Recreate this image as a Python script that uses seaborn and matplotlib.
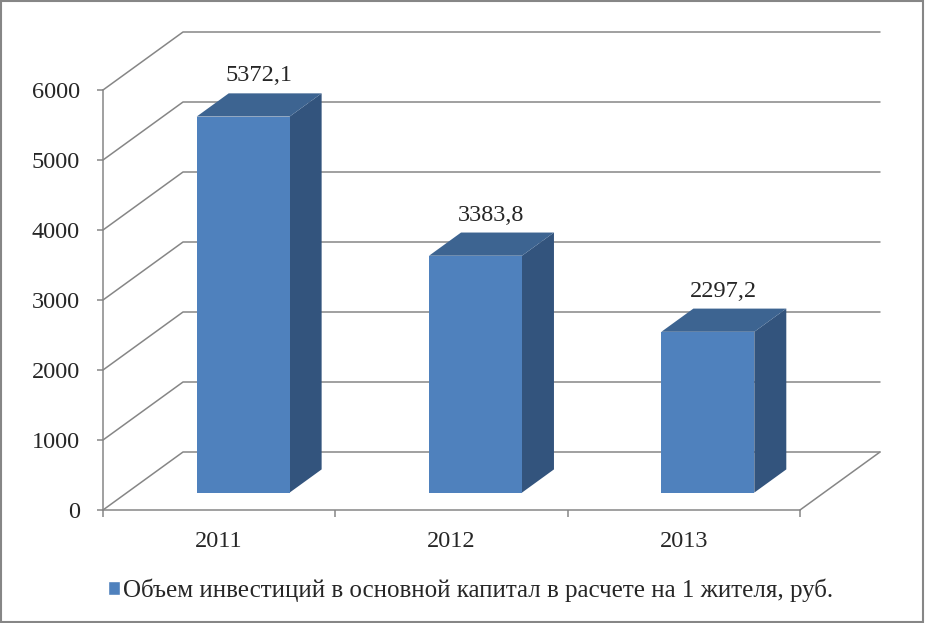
#!/usr/bin/env python3
# Investment per resident, pseudo-3D column chart

import pandas as pd
import seaborn as sns
import matplotlib.pyplot as plt
from matplotlib.patches import Polygon, Rectangle

years = ["2011", "2012", "2013"]
values = [5372.1, 3383.8, 2297.2]
value_labels = ["5372,1", "3383,8", "2297,2"]
series = "Объем инвестиций в основной капитал в расчете на 1 жителя, руб."
yticks = [0, 1000, 2000, 3000, 4000, 5000, 6000]

front = "#4f81bd"
side = "#33547d"
top = "#3d6491"
grid = "#868686"
fs = 17.5

sns.set_style("white")
plt.rcParams["font.family"] = ["Liberation Serif", "DejaVu Serif"]

fig = plt.figure(figsize=(9.25, 6.23), dpi=100)
ax = fig.add_axes([103 / 925, 1 - 510 / 623, 697 / 925, 420 / 623])

df = pd.DataFrame({"year": years, "value": values, "series": series})
sns.barplot(data=df, x="year", y="value", hue="series", palette=[front],
            saturation=1, width=0.4, linewidth=0, zorder=3, ax=ax)
bars = list(ax.patches)
ax.set_xlim(-0.5, 2.5)
ax.set_ylim(0, 6000)

# depth of the floor in data units (80 px right, 58 px up)
dx = 80 * 3 / 697
dy = 58 * 6000 / 420

# walls and floor
for v in yticks:
    ax.plot([-0.5, -0.5 + dx, 2.5 + dx], [v, v + dy, v + dy],
            color=grid, lw=1.1, clip_on=False, zorder=1)
ax.plot([2.5, 2.5 + dx], [0, dy], color=grid, lw=1.1, clip_on=False, zorder=1)

# push the bars back into the middle of the depth and add top/side faces
for p, lab in zip(bars, value_labels):
    h = p.get_height()
    p.set_x(p.get_x() + 0.3 * dx)
    p.set_y(0.3 * dy)
    x0, w, y0 = p.get_x(), p.get_width(), p.get_y()
    x1, y1 = x0 + w, y0 + h
    ddx, ddy = 0.4 * dx, 0.4 * dy
    ax.add_patch(Polygon([(x1, y0), (x1, y1), (x1 + ddx, y1 + ddy), (x1 + ddx, y0 + ddy)],
                         closed=True, facecolor=side, edgecolor="none", zorder=2.5, clip_on=False))
    ax.add_patch(Polygon([(x0, y1), (x1, y1), (x1 + ddx, y1 + ddy), (x0 + ddx, y1 + ddy)],
                         closed=True, facecolor=top, edgecolor="none", zorder=3.5, clip_on=False))
    ax.annotate(lab, (x0 + w / 2 + ddx / 2, y1 + ddy), xytext=(0, 8.6),
                textcoords="offset points", ha="center", va="baseline",
                fontsize=fs, annotation_clip=False)

ax.set_xlabel("")
ax.set_ylabel("")
ax.set_yticks(yticks)
ax.set_xticks(range(len(years)))
ax.set_xticks([-0.5, 0.5, 1.5, 2.5], minor=True)
ax.tick_params(axis="x", which="major", length=0, pad=15, labelsize=fs)
ax.tick_params(axis="x", which="minor", bottom=True, length=5, width=1.1, color=grid)
ax.tick_params(axis="y", left=True, length=4.5, width=1.1, color=grid, pad=12, labelsize=fs)
for s in ["top", "right"]:
    ax.spines[s].set_visible(False)
for s in ["left", "bottom"]:
    ax.spines[s].set_color(grid)
    ax.spines[s].set_linewidth(1.1)

ax.get_legend().remove()
fig.legend(handles=[Rectangle((0, 0), 1, 1, facecolor=front)], labels=[series],
           loc="center", bbox_to_anchor=(0.509, 0.053), frameon=False,
           handlelength=0.45, handleheight=0.45, handletextpad=0.15, fontsize=18)

fig.add_artist(Rectangle((0.001, 0.002), 0.997, 0.996, transform=fig.transFigure,
                         fill=False, edgecolor=grid, lw=1.5))

fig.savefig("out.png", dpi=100)
